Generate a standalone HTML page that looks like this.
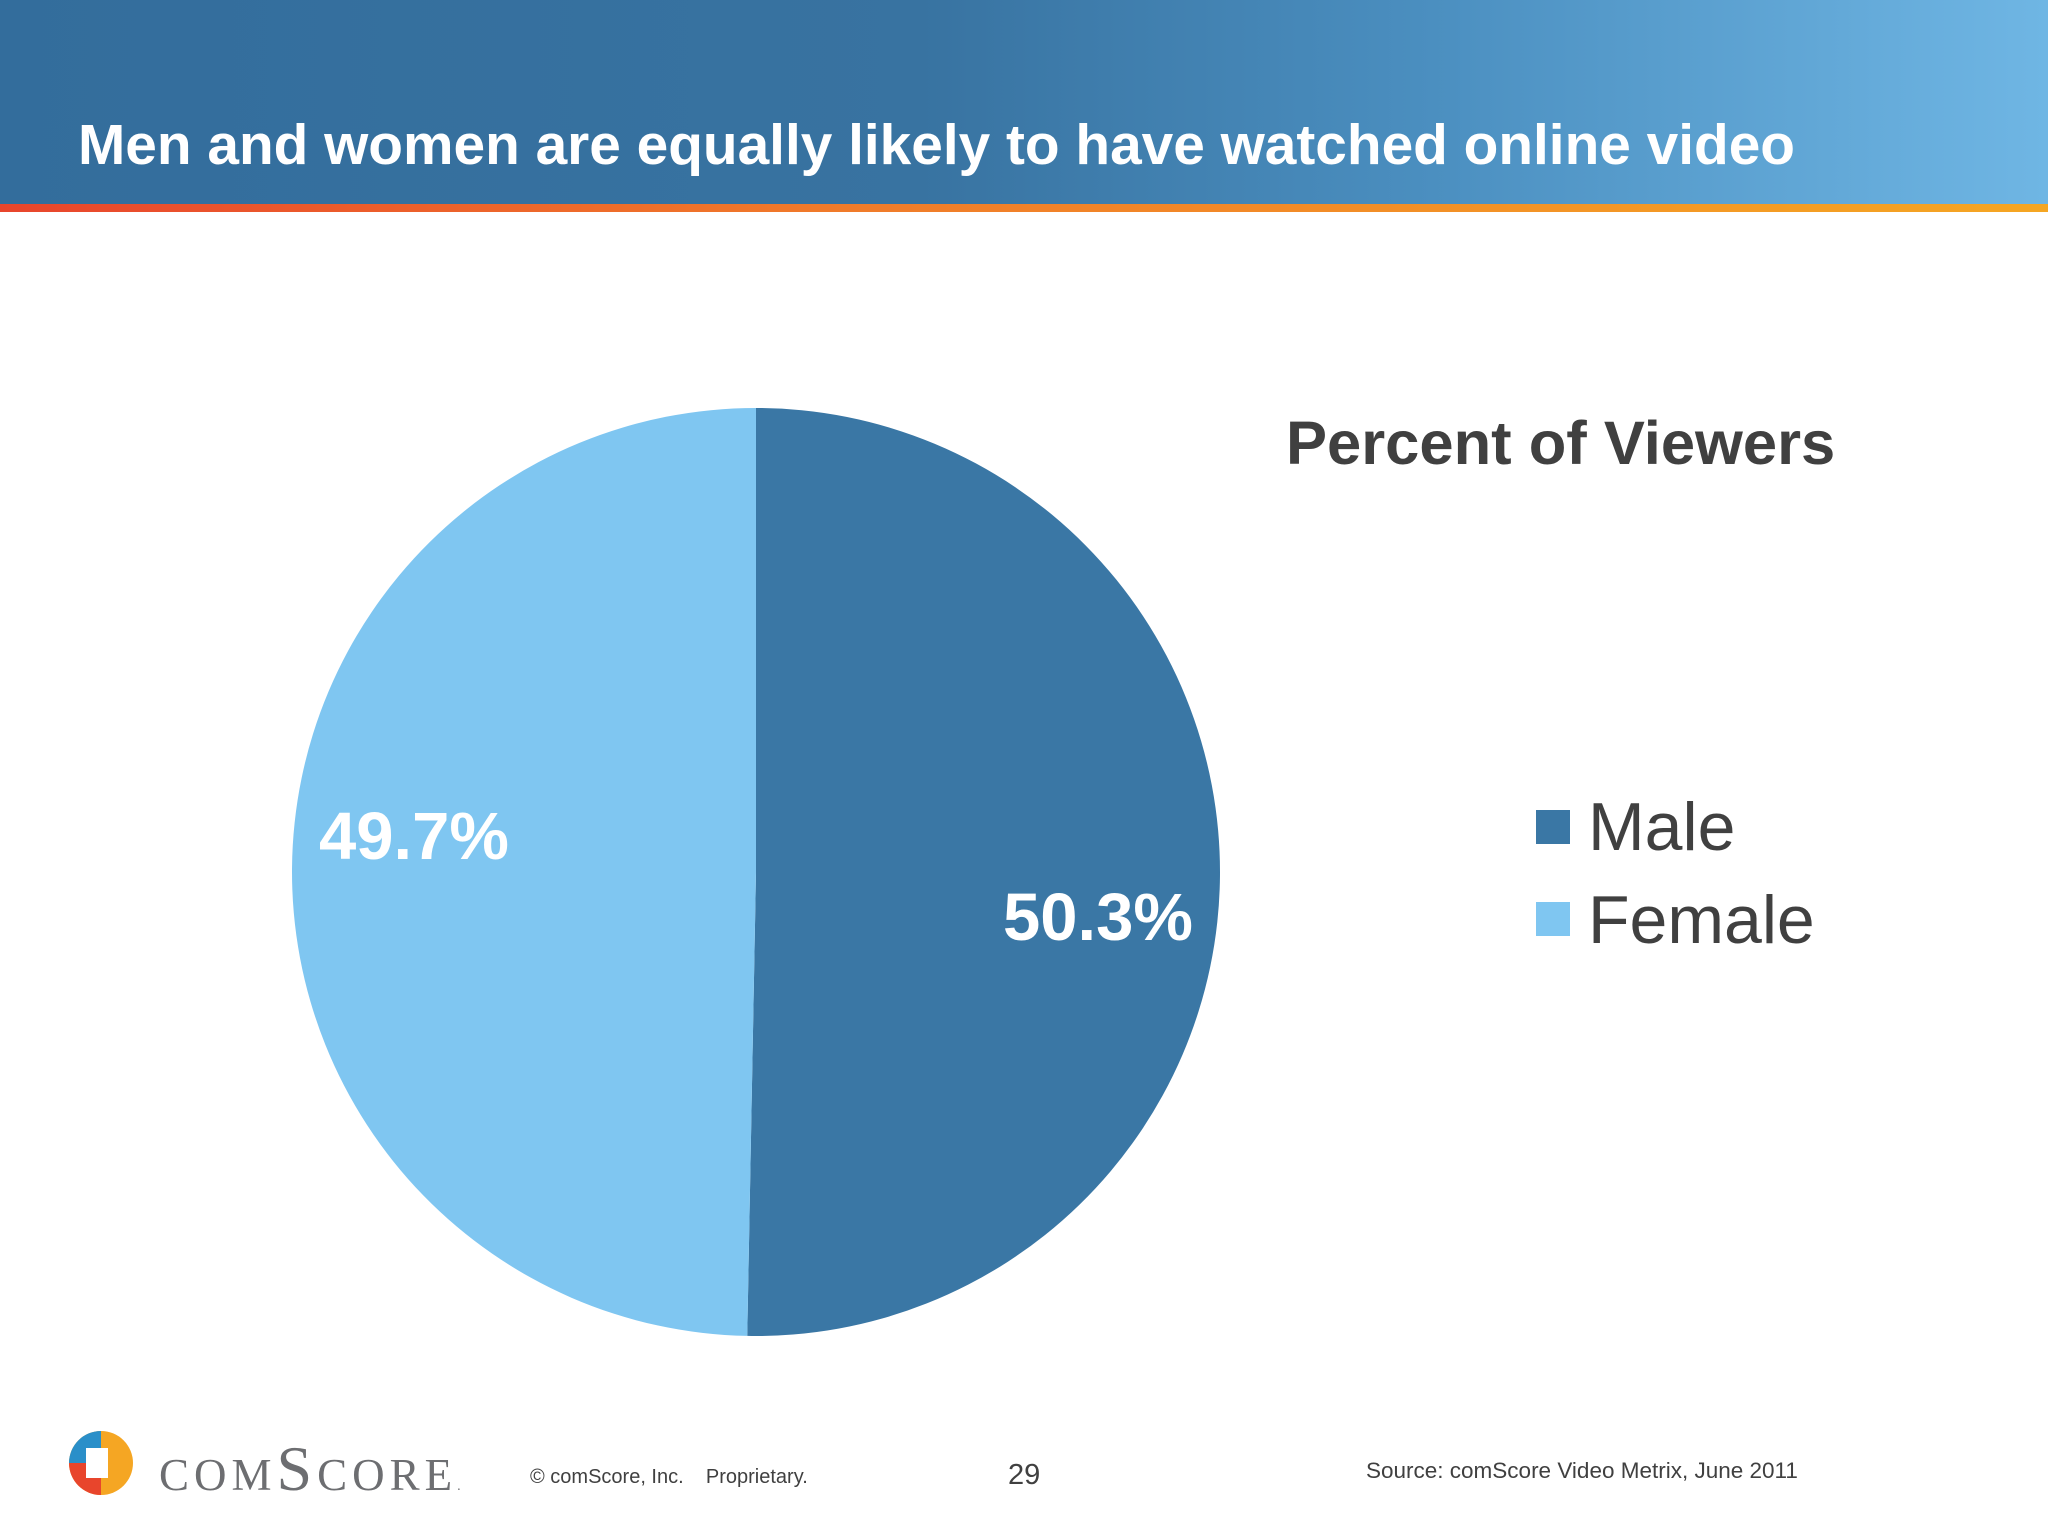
<!DOCTYPE html>
<html><head><meta charset="utf-8"><style>
html,body{margin:0;padding:0;background:#fff}
body{width:2048px;height:1536px;position:relative;overflow:hidden;font-family:"Liberation Sans",Arial,sans-serif}
.t{position:absolute;white-space:nowrap}
</style></head><body>
<div style="position:absolute;left:0;top:0;width:2048px;height:206px;background:linear-gradient(90deg,#336d9c 0%,#3873a1 45%,#4b8fc0 70%,#6fb6e4 100%)"></div>
<div style="position:absolute;left:0;top:204px;width:2048px;height:8px;background:linear-gradient(90deg,#e8452c 0%,#f07a2a 40%,#f5a623 100%)"></div>
<div class="t" style="left:78px;top:113px;font-size:56.8px;font-weight:bold;color:#fff">Men and women are equally likely to have watched online video</div>

<svg id="chart" width="2048" height="1536" style="position:absolute;left:0;top:0"></svg>

<div class="t" style="left:1286px;top:408px;font-size:61.5px;font-weight:bold;color:#404040">Percent of Viewers</div>

<div style="position:absolute;left:1536px;top:810px;width:34px;height:34px;background:#3a77a5"></div>
<div class="t" style="left:1588px;top:788px;font-size:68px;color:#404040">Male</div>
<div style="position:absolute;left:1536px;top:902px;width:34px;height:34px;background:#7fc6f1"></div>
<div class="t" style="left:1588px;top:881px;font-size:68px;color:#404040">Female</div>

<svg width="70" height="70" style="position:absolute;left:66px;top:1428px">
<circle cx="35" cy="35" r="32" fill="#f5a623"/>
<path d="M35 3 A32 32 0 0 0 3 35 L20 35 L35 20 Z" fill="#2a8fc9"/>
<path d="M3 35 A32 32 0 0 0 35 67 L35 50 L20 35 Z" fill="#e8452c"/>
<rect x="20" y="20" width="22" height="30" fill="#fff"/>
</svg>
<div class="t" style="left:159px;top:1432px;font-size:64px;color:#6d6e71;font-family:'Liberation Serif',serif;font-variant:small-caps;letter-spacing:5px">comScore<span style="font-size:14px">.</span></div>
<div class="t" style="left:530px;top:1466px;font-size:20px;color:#404040">© comScore, Inc. &nbsp;&nbsp;&nbsp;Proprietary.</div>
<div class="t" style="left:1008px;top:1459px;font-size:29px;color:#404040">29</div>
<div class="t" style="left:1366px;top:1458px;font-size:22.5px;color:#404040">Source: comScore Video Metrix, June 2011</div>

<script>
const categories=["Male","Female"];
const values=[50.3,49.7];
const labels=["50.3%","49.7%"];
const colors=["#3a77a5","#7fc6f1"];
const svg=document.getElementById('chart');
const NS="http://www.w3.org/2000/svg";
const cx=756,cy=872,r=464;
const total=values.reduce((a,b)=>a+b,0);
function pt(frac,rr){const a=frac*2*Math.PI-Math.PI/2;return [cx+rr*Math.cos(a),cy+rr*Math.sin(a)];}
let acc=0;
values.forEach((v,i)=>{
  const f0=acc/total,f1=(acc+v)/total;acc+=v;
  const p0=pt(f0,r),p1=pt(f1,r);
  const large=(f1-f0)>0.5?1:0;
  const path=document.createElementNS(NS,'path');
  path.setAttribute('d',`M${cx},${cy} L${p0[0]},${p0[1]} A${r},${r} 0 ${large} 1 ${p1[0]},${p1[1]} Z`);
  path.setAttribute('fill',colors[i]);
  
  
  svg.appendChild(path);
  const t=document.createElementNS(NS,'text');
  t.setAttribute('x',i===0?1003:319);
  t.setAttribute('y',i===0?940:859);
  t.setAttribute('fill','#fff');
  t.setAttribute('font-size','67');
  t.setAttribute('font-weight','bold');
  t.setAttribute('font-family','Liberation Sans, Arial, sans-serif');
  t.textContent=labels[i];
  
  
  svg.appendChild(t);
});
</script>
</body></html>
